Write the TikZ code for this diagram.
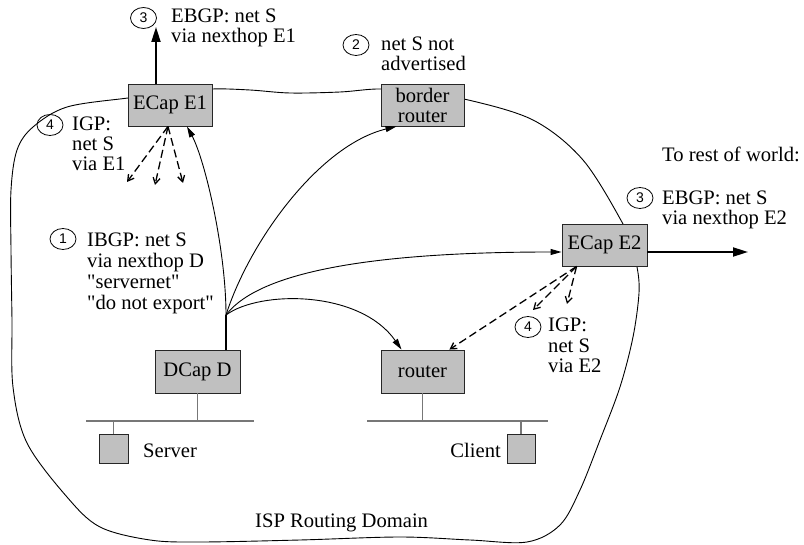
\documentclass[tikz,border=0pt]{standalone}
\usepackage{fontspec}
\setmainfont{Liberation Serif}[Ligatures=TeXOff]
\newfontfamily\circfont{Liberation Sans}
\usetikzlibrary{arrows.meta,shapes.geometric}
\definecolor{boxgray}{HTML}{C0C0C0}
\definecolor{busgray}{HTML}{777777}
\begin{document}
\begin{tikzpicture}[x=1pt,y=-1pt,
  every node/.style={font=\fontsize{20.6}{20}\selectfont},
  box/.style={draw=black!85, line width=0.9pt, fill=boxgray, minimum width=84pt, minimum height=42pt, inner sep=0pt, align=center},
  hostbox/.style={draw=black!85, line width=0.9pt, fill=boxgray, minimum width=29pt, minimum height=29pt, inner sep=0pt},
  bus/.style={draw=busgray, line width=1.3pt},
  boundary/.style={draw=black, line width=0.9pt},
  fanline/.style={draw=black, line width=0.9pt, -{Triangle[length=11pt,width=6pt]}},
  bigarrow/.style={draw=black, line width=1.9pt, -{Triangle[length=15pt,width=9pt]}},
  dasharrow/.style={draw=black, line width=1.3pt, dash pattern=on 8pt off 4pt, -{Straight Barb[length=6pt,width=7pt]}},
  num/.style={draw=black, line width=0.8pt, ellipse, minimum width=26pt, minimum height=21pt, inner sep=0pt, font=\circfont\fontsize{14}{14}\selectfont},
  lbl/.style={anchor=base west, inner sep=0pt, align=left},
]
\useasboundingbox (0,0) rectangle (804,545);

% ISP routing domain boundary
\draw[boundary] plot[smooth cycle, tension=0.55] coordinates {
  (128,98) (170,93) (212,89) (250,90) (290,93) (340,92) (381,89) (422,94) (464,99)
  (533,120) (583,160) (623,224) (630,245) (637,267) (639,293) (633,337) (620,387)
  (600,440) (580,490) (560,525) (527,542) (470,540) (400,537) (300,540) (200,542)
  (150,540) (100,527) (67,497) (27,443) (13,387) (12,320) (11,250) (11,190) (17,150)
  (33,127) (67,107)};

% boxes
\node[box] (e1) at (170,105) {ECap E1};
\node[box, minimum width=83pt] (br) at (422.5,105) {border\\router};
\node[box, minimum width=85pt] (e2) at (604.5,245) {ECap E2};
\node[box, minimum width=85pt, minimum height=43pt] (d) at (197.5,371.5) {DCap D};
\node[box, minimum width=83pt, minimum height=43pt] (r) at (422.5,371.5) {router};
\node[hostbox] (srv) at (113.5,448.5) {};
\node[hostbox, minimum width=28pt] (cli) at (521,448.5) {};

% LANs
\coordinate (busL1) at (86,421);
\coordinate (busR1) at (254,421);
\coordinate (busL2) at (367,421);
\coordinate (busR2) at (548,421);
\draw[bus] (busL1) -- (busR1);
\draw[bus] (busL2) -- (busR2);
\draw[bus] (d.south) -- (d.south |- busL1);
\draw[bus] (srv.north) -- (srv.north |- busL1);
\draw[bus] (r.south) -- (r.south |- busL2);
\draw[bus] (cli.north) -- (cli.north |- busL2);

% outgoing EBGP arrows
\coordinate (e1up) at (156,27);
\coordinate (e2out) at (748,252);
\draw[bigarrow] (e1.north -| e1up) -- (e1up);
\draw[bigarrow] (e2.east |- e2out) -- (e2out);

% IBGP fan from DCap D
\coordinate (fan) at (226,315);
\draw[line width=1.9pt] ([xshift=28.5pt]d.north) -- (fan);
\draw[fanline] (fan) .. controls (226,250) and (205,160) .. ([xshift=17pt]e1.south);
\draw[fanline] (fan) .. controls (250,240) and (320,145) .. ([xshift=-26pt]br.south);
\draw[fanline] (fan) .. controls (260,270) and (380,252) .. ([yshift=-7pt]e2.west);
\draw[fanline] (fan) .. controls (260,290) and (360,290) .. ([xshift=-21pt]r.north);

% IGP dashed arrows
\coordinate (a1) at (127,182);
\coordinate (a2) at (155,185);
\coordinate (a3) at (183,183);
\draw[dasharrow] ([xshift=-2pt]e1.south) -- (a1);
\draw[dasharrow] ([xshift=-2pt]e1.south) -- (a2);
\draw[dasharrow] ([xshift=-2pt]e1.south) -- (a3);
\coordinate (b2) at (533,310);
\coordinate (b3) at (567,304);
\draw[dasharrow] ([xshift=15pt]e2.south west) -- ([xshift=-15pt]r.north east);
\draw[dasharrow] ([xshift=15pt]e2.south west) -- (b2);
\draw[dasharrow] ([xshift=15pt]e2.south west) -- (b3);

% numbered circles
\node[num] (n3a) at (143.5,18) {3};
\node[num] (n2) at (356,45) {2};
\node[num] (n4a) at (50,125) {4};
\node[num] (n1) at (63,239) {1};
\node[num] (n3b) at (640,198) {3};
\node[num] (n4b) at (528,327) {4};

% labels (base anchor = baseline of the last line)
\node[lbl] (t3a) at (171,43) {EBGP: net S\\via nexthop E1};
\node[lbl] (t2) at (381,71) {net S not\\advertised};
\node[lbl] (tw) at (662,162) {To rest of world:};
\node[lbl] (t3b) at (662,225) {EBGP: net S\\via nexthop E2};
\node[lbl] (t4a) at (72,171) {IGP:\\net S\\via E1};
\node[lbl, font=\fontsize{20.6}{21}\selectfont] (t1) at (87,310) {IBGP: net S\\via nexthop D\\"servernet"\\"do not export"};
\node[lbl, font=\fontsize{20.6}{20.5}\selectfont] (t4b) at (548,373) {IGP:\\net S\\via E2};
\node[lbl] (ts) at (143,457) {Server};
\node[anchor=base east, inner sep=0pt] (tc) at (501,457) {Client};
\node[lbl] (tisp) at (255,527) {ISP Routing Domain};
\end{tikzpicture}
\end{document}
